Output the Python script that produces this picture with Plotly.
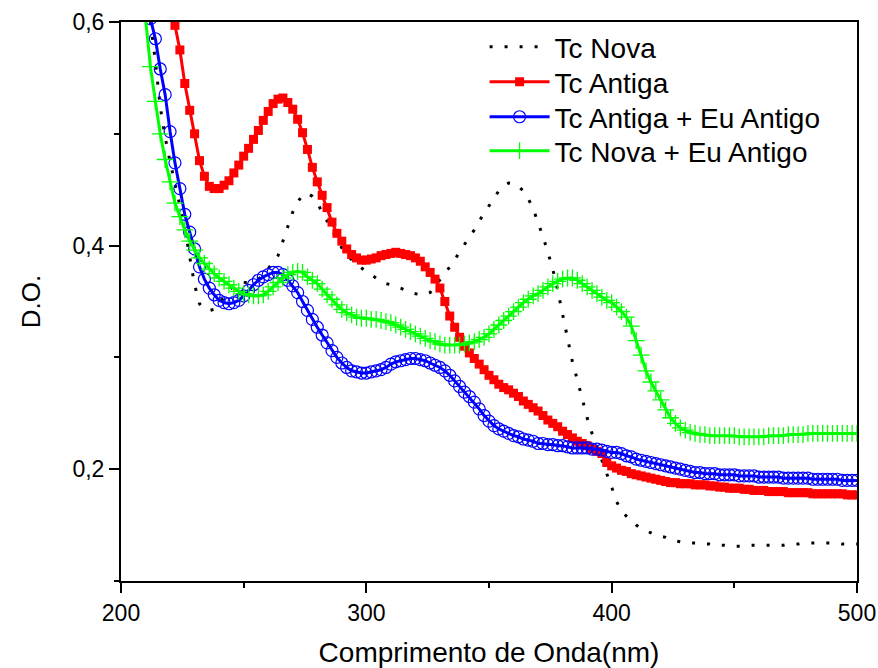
import plotly.graph_objects as go

# Wavelength grid starts (nm), sampled every 2 nm up to 500
tc_nova_start = 212
tc_antiga_start = 222
tc_antiga_eu_start = 212
tc_nova_eu_start = 210
step = 2

tc_nova = [
    0.600, 0.565, 0.524, 0.497, 0.475, 0.456, 0.438, 0.416, 0.390, 0.365,
    0.348, 0.343, 0.342, 0.343, 0.348, 0.354, 0.360, 0.364, 0.366, 0.367,
    0.367, 0.368, 0.370, 0.374, 0.379, 0.385, 0.391, 0.404, 0.418, 0.430,
    0.439, 0.445, 0.447, 0.444, 0.438, 0.430, 0.422, 0.413, 0.405, 0.398,
    0.392, 0.387, 0.383, 0.380, 0.377, 0.374, 0.371, 0.368, 0.366, 0.365,
    0.363, 0.362, 0.360, 0.358, 0.357, 0.356, 0.356, 0.358, 0.364, 0.369,
    0.375, 0.381, 0.387, 0.394, 0.401, 0.407, 0.414, 0.422, 0.429, 0.436,
    0.443, 0.449, 0.453, 0.456, 0.456, 0.453, 0.449, 0.442, 0.433, 0.421,
    0.408, 0.394, 0.379, 0.360, 0.338, 0.315, 0.296, 0.280, 0.263, 0.246,
    0.232, 0.220, 0.208, 0.197, 0.184, 0.171, 0.163, 0.158, 0.154, 0.150,
    0.147, 0.145, 0.143, 0.141, 0.140, 0.139, 0.137, 0.136, 0.135, 0.135,
    0.134, 0.134, 0.133, 0.133, 0.133, 0.132, 0.132, 0.132, 0.131, 0.131,
    0.131, 0.131, 0.132, 0.132, 0.132, 0.132, 0.132, 0.132, 0.132, 0.132,
    0.133, 0.133, 0.133, 0.134, 0.134, 0.134, 0.134, 0.134, 0.134, 0.134,
    0.134, 0.133, 0.133, 0.133, 0.133,
]

tc_antiga = [
    0.597, 0.575, 0.545, 0.521, 0.500, 0.476, 0.462, 0.453, 0.451, 0.451,
    0.454, 0.458, 0.465, 0.472, 0.480, 0.487, 0.495, 0.503, 0.512, 0.520,
    0.527, 0.531, 0.532, 0.528, 0.522, 0.513, 0.501, 0.486, 0.470, 0.457,
    0.445, 0.434, 0.421, 0.411, 0.404, 0.397, 0.392, 0.389, 0.387, 0.387,
    0.388, 0.389, 0.391, 0.392, 0.393, 0.394, 0.393, 0.392, 0.391, 0.389,
    0.386, 0.381, 0.376, 0.370, 0.362, 0.350, 0.337, 0.327, 0.318, 0.310,
    0.304, 0.299, 0.294, 0.289, 0.284, 0.280, 0.276, 0.273, 0.271, 0.268,
    0.265, 0.261, 0.258, 0.255, 0.252, 0.248, 0.244, 0.241, 0.238, 0.234,
    0.231, 0.228, 0.225, 0.223, 0.221, 0.218, 0.216, 0.214, 0.206, 0.203,
    0.201, 0.199, 0.198, 0.196, 0.195, 0.194, 0.193, 0.192, 0.191, 0.190,
    0.189, 0.188, 0.188, 0.187, 0.187, 0.187, 0.186, 0.186, 0.186, 0.185,
    0.185, 0.184, 0.184, 0.183, 0.183, 0.183, 0.182, 0.182, 0.181, 0.181,
    0.181, 0.180, 0.180, 0.180, 0.180, 0.179, 0.179, 0.179, 0.179, 0.179,
    0.178, 0.178, 0.178, 0.178, 0.178, 0.178, 0.178, 0.177, 0.177, 0.177,
]

tc_antiga_eu = [
    0.603, 0.585, 0.558, 0.535, 0.502, 0.474, 0.451, 0.428, 0.412, 0.397,
    0.381, 0.370, 0.362, 0.356, 0.351, 0.349, 0.348, 0.349, 0.351, 0.355,
    0.360, 0.365, 0.369, 0.372, 0.374, 0.376, 0.376, 0.374, 0.369, 0.364,
    0.358, 0.350, 0.342, 0.334, 0.327, 0.320, 0.313, 0.306, 0.300, 0.295,
    0.291, 0.288, 0.287, 0.286, 0.286, 0.287, 0.288, 0.289, 0.291, 0.294,
    0.296, 0.297, 0.298, 0.299, 0.299, 0.298, 0.297, 0.295, 0.293, 0.291,
    0.288, 0.284, 0.279, 0.274, 0.269, 0.265, 0.260, 0.254, 0.248, 0.243,
    0.239, 0.236, 0.234, 0.232, 0.230, 0.229, 0.227, 0.226, 0.225, 0.223,
    0.223, 0.222, 0.222, 0.221, 0.221, 0.220, 0.219, 0.219, 0.219, 0.219,
    0.218, 0.218, 0.217, 0.216, 0.215, 0.215, 0.214, 0.212, 0.211, 0.209,
    0.208, 0.207, 0.206, 0.205, 0.204, 0.203, 0.202, 0.201, 0.200, 0.199,
    0.198, 0.197, 0.197, 0.196, 0.196, 0.196, 0.195, 0.195, 0.195, 0.195,
    0.194, 0.194, 0.194, 0.194, 0.193, 0.193, 0.193, 0.193, 0.193, 0.192,
    0.192, 0.192, 0.192, 0.192, 0.192, 0.191, 0.191, 0.191, 0.191, 0.191,
    0.191, 0.190, 0.190, 0.190, 0.190,
]

tc_nova_eu = [
    0.603, 0.560, 0.529, 0.500, 0.477, 0.457, 0.438, 0.426, 0.414, 0.404,
    0.396, 0.389, 0.384, 0.379, 0.375, 0.371, 0.368, 0.365, 0.362, 0.359,
    0.357, 0.356, 0.355, 0.355, 0.356, 0.359, 0.363, 0.367, 0.371, 0.374,
    0.376, 0.377, 0.376, 0.372, 0.369, 0.366, 0.361, 0.356, 0.352, 0.347,
    0.343, 0.340, 0.338, 0.336, 0.335, 0.335, 0.334, 0.334, 0.333, 0.332,
    0.331, 0.329, 0.327, 0.325, 0.323, 0.321, 0.319, 0.317, 0.315, 0.314,
    0.312, 0.311, 0.311, 0.311, 0.311, 0.312, 0.313, 0.314, 0.316, 0.318,
    0.321, 0.325, 0.329, 0.333, 0.337, 0.341, 0.345, 0.349, 0.352, 0.355,
    0.357, 0.360, 0.363, 0.366, 0.368, 0.370, 0.371, 0.371, 0.369, 0.366,
    0.363, 0.360, 0.357, 0.354, 0.351, 0.349, 0.345, 0.341, 0.336, 0.328,
    0.315, 0.302, 0.288, 0.278, 0.270, 0.262, 0.253, 0.246, 0.241, 0.237,
    0.235, 0.233, 0.232, 0.231, 0.231, 0.230, 0.230, 0.230, 0.230, 0.230,
    0.230, 0.229, 0.229, 0.229, 0.229, 0.229, 0.229, 0.230, 0.230, 0.230,
    0.230, 0.231, 0.231, 0.231, 0.231, 0.232, 0.232, 0.232, 0.232, 0.232,
    0.232, 0.232, 0.232, 0.232, 0.232, 0.232,
]

x_tickvals = [200, 300, 400, 500]
x_minor = [250, 350, 450]
y_tickvals = [0.2, 0.4, 0.6]
y_ticktext = ["0,2", "0,4", "0,6"]
y_minor = [0.1, 0.3, 0.5]


def grid(start, vals):
    return [start + step * i for i in range(len(vals))]


FONT = "Liberation Sans, Arial, sans-serif"

fig = go.Figure()
fig.add_trace(go.Scatter(
    x=grid(tc_nova_start, tc_nova), y=tc_nova, name="Tc Nova", mode="lines",
    line=dict(color="black", width=3, dash="3px,12px"),
    legend="legend",
))
fig.add_trace(go.Scatter(
    x=grid(tc_antiga_start, tc_antiga), y=tc_antiga, name="Tc Antiga",
    mode="lines+markers",
    line=dict(color="#FF0000", width=3),
    marker=dict(symbol="square", size=9, color="#FF0000"),
    legend="legend2",
))
fig.add_trace(go.Scatter(
    x=grid(tc_antiga_eu_start, tc_antiga_eu), y=tc_antiga_eu,
    name="Tc Antiga + Eu Antigo", mode="lines+markers",
    line=dict(color="#0000FF", width=3),
    marker=dict(symbol="circle-open", size=12, color="#0000FF",
                line=dict(width=1.2, color="#0000FF")),
    legend="legend3",
))
fig.add_trace(go.Scatter(
    x=grid(tc_nova_eu_start, tc_nova_eu), y=tc_nova_eu,
    name="Tc Nova + Eu Antigo", mode="lines+markers",
    line=dict(color="#00FF00", width=3),
    marker=dict(symbol="cross-thin", size=12, color="#00FF00",
                line=dict(width=1.3, color="#00FF00")),
    legend="legend4",
))

axis_common = dict(
    showline=True, linecolor="black", linewidth=2, mirror=True,
    ticks="outside", ticklen=10, tickwidth=2, tickcolor="black",
    showgrid=False, zeroline=False, automargin=False,
    tickfont=dict(family=FONT, size=23, color="black"),
)

fig.update_xaxes(
    range=[200, 500], tickvals=x_tickvals,
    minor=dict(tickvals=x_minor, ticks="outside", ticklen=5, tickwidth=2,
               tickcolor="black", showgrid=False),
    title=dict(text="Comprimento de Onda(nm)",
               font=dict(family=FONT, size=28, color="black"), standoff=22),
    **axis_common,
)
fig.update_yaxes(
    range=[0.1, 0.6], tickvals=y_tickvals, ticktext=y_ticktext,
    minor=dict(tickvals=y_minor, ticks="outside", ticklen=5, tickwidth=2,
               tickcolor="black", showgrid=False),
    title=dict(text="D.O.", font=dict(family=FONT, size=26, color="black"),
               standoff=24),
    **axis_common,
)

legend_rows_y = [0.9553, 0.8927, 0.8300, 0.7692]


def legend_box(yv):
    return dict(x=0.494, y=yv, xanchor="left", yanchor="middle",
                bgcolor="rgba(0,0,0,0)", borderwidth=0,
                font=dict(family=FONT, size=28, color="black"),
                itemwidth=60)


fig.update_layout(
    width=878, height=668,
    margin=dict(l=121, r=21, t=22, b=87),
    paper_bgcolor="white", plot_bgcolor="white",
    showlegend=True,
    legend=legend_box(legend_rows_y[0]),
    legend2=legend_box(legend_rows_y[1]),
    legend3=legend_box(legend_rows_y[2]),
    legend4=legend_box(legend_rows_y[3]),
)

fig.write_html("out.html")
